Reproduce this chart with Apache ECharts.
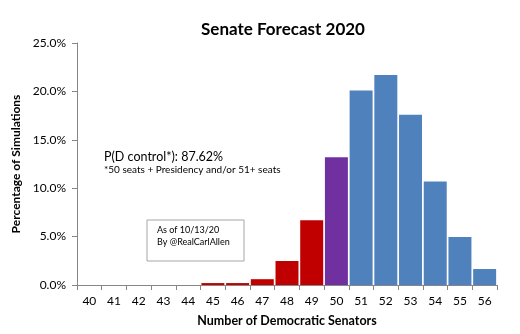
<!DOCTYPE html>
<html><head><meta charset="utf-8">
<script src="https://cdn.jsdelivr.net/npm/echarts@6/dist/echarts.min.js"></script>
<style>html,body{margin:0;padding:0;background:#fff}#c{width:520px;height:334px}</style>
</head><body><div id="c"></div>
<script>
var categories = ['40','41','42','43','44','45','46','47','48','49','50','51','52','53','54','55','56'];
var values = [0,0,0,0,0,0.2,0.2,0.6,2.48,6.7,13.2,20.1,21.7,17.6,10.7,4.96,1.65];
var yTicks = [0,5,10,15,20,25];
var FONT = 'Lato, "Liberation Sans", sans-serif';
function colorFor(c){ var n=+c; if(n<50) return '#C00000'; if(n===50) return '#7030A0'; return '#4F81BD'; }
var chart = echarts.init(document.getElementById('c'));
chart.setOption({
  animation:false,
  title:{text:'Senate Forecast 2020',left:278,top:16,textAlign:'center',textStyle:{fontFamily:FONT,fontSize:17,fontWeight:'bold',color:'#000'}},
  grid:{left:77,right:23,top:43,bottom:49},
  xAxis:{type:'category',data:categories,
    name:'Number of Democratic Senators',nameLocation:'middle',nameGap:29,
    nameTextStyle:{fontFamily:FONT,fontSize:12.5,fontWeight:'bold',color:'#000'},
    axisLine:{lineStyle:{color:'#868686',width:1}},
    axisTick:{show:true,length:5,lineStyle:{color:'#868686'}},
    axisLabel:{fontFamily:FONT,fontSize:12,color:'#000',margin:10}},
  yAxis:{type:'value',min:yTicks[0],max:yTicks[yTicks.length-1],interval:5,
    name:'Percentage of Simulations',nameLocation:'middle',nameGap:53,
    nameTextStyle:{fontFamily:FONT,fontSize:12,fontWeight:'bold',color:'#000'},
    splitLine:{show:false},
    axisLine:{show:true,lineStyle:{color:'#868686',width:1}},
    axisTick:{show:true,length:5,lineStyle:{color:'#868686'}},
    axisLabel:{fontFamily:FONT,fontSize:12,color:'#000',margin:11,formatter:function(v){return v.toFixed(1)+'%';}}},
  series:[{type:'bar',barCategoryGap:'7%',
    data:values.map(function(v,i){return {value:v,itemStyle:{color:colorFor(categories[i])}};})}],
  graphic:[
    {type:'text',left:104,top:150,style:{text:'P(D control*): 87.62%',font:'12.5px '+FONT,fill:'#000'}},
    {type:'text',left:104,top:165,style:{text:'*50 seats + Presidency and/or 51+ seats',font:'10px '+FONT,fill:'#000'}},
    {type:'rect',shape:{x:147,y:220,width:97,height:41},style:{fill:'#fff',stroke:'#A6A6A6',lineWidth:1}},
    {type:'text',left:157,top:226,style:{text:'As of 10/13/20',font:'9px '+FONT,fill:'#000'}},
    {type:'text',left:157,top:238,style:{text:'By @RealCarlAllen',font:'9px '+FONT,fill:'#000'}}
  ]
});
</script></body></html>
